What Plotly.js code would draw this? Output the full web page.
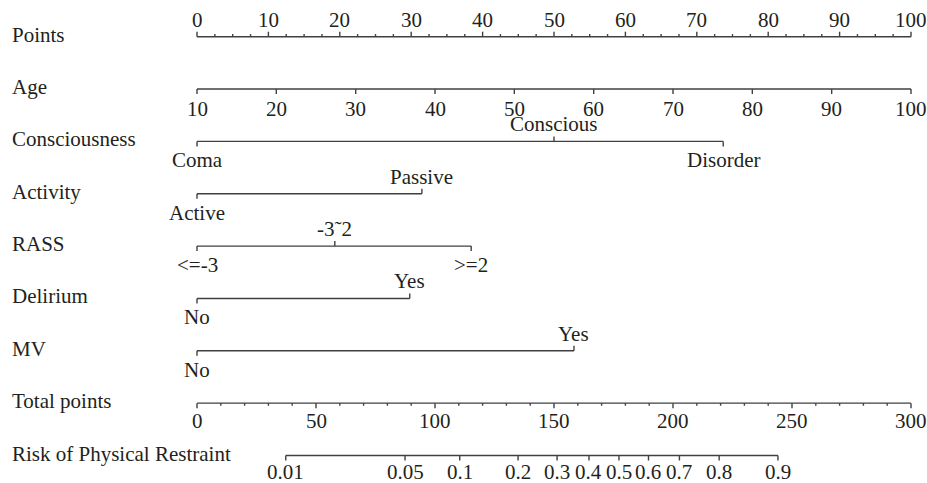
<!DOCTYPE html>
<html>
<head>
<meta charset="utf-8">
<script src="https://cdn.plot.ly/plotly-3.0.1.min.js"></script>
<style>html,body{margin:0;padding:0;background:#fff;}#chart{width:927px;height:483px;}</style>
</head>
<body>
<div id="chart"></div>
<script>
// ---------- DATA ----------
const rowNames = ["Points", "Age", "Consciousness", "Activity", "RASS", "Delirium", "MV", "Total points", "Risk of Physical Restraint"];

const pointsMajor = [0, 10, 20, 30, 40, 50, 60, 70, 80, 90, 100];
const pointsMinor = [2.5, 5, 7.5, 12.5, 15, 17.5, 22.5, 25, 27.5, 32.5, 35, 37.5, 42.5, 45, 47.5, 52.5, 55, 57.5, 62.5, 65, 67.5, 72.5, 75, 77.5, 82.5, 85, 87.5, 92.5, 95, 97.5];

const ageTicks = [10, 20, 30, 40, 50, 60, 70, 80, 90, 100];
const ageMin = 10, ageMax = 100, agePointsAtMax = 100;

const consciousnessLevels = ["Coma", "Conscious", "Disorder"];
const consciousnessPoints = [0, 50, 73.7];
const activityLevels = ["Active", "Passive"];
const activityPoints = [0, 31.5];
const rassLevels = ["<=-3", "-3\u02DC2", ">=2"];
const rassPoints = [0, 19.3, 38.4];
const deliriumLevels = ["No", "Yes"];
const deliriumPoints = [0, 29.8];
const mvLevels = ["No", "Yes"];
const mvPoints = [0, 52.8];

const totalMajor = [0, 50, 100, 150, 200, 250, 300];
const totalMinor = [10, 20, 30, 40, 60, 70, 80, 90, 110, 120, 130, 140, 160, 170, 180, 190, 210, 220, 230, 240, 260, 270, 280, 290];
const totalMax = 300;

const riskTicks = [0.01, 0.05, 0.1, 0.2, 0.3, 0.4, 0.5, 0.6, 0.7, 0.8, 0.9];
const riskTotalPoints = [37.3, 87.4, 110.4, 134.9, 151.3, 164.7, 177.3, 189.7, 202.7, 219.4, 244.1];

// ---------- DRAWING ----------
const W = 927, H = 483;
const pxPerPoint = 7.14, x0px = 197;
const rowTop = 36.7, pxPerRow = 52.35;
const majorLen = 5 / pxPerRow, minorLen = 2.6 / pxPerRow;
const FONT = {family: "Liberation Serif, Times New Roman, serif", size: 21, color: "#231f20"};
const LINE = "#404040";

const lx = [], ly = [];
function seg(xa, ya, xb, yb) { lx.push(xa, xb, null); ly.push(ya, yb, null); }
const ann = [];
function label(text, x, row, side, shiftBelow) {
  ann.push({x: x, y: row, xref: "x", yref: "y", text: text, showarrow: false,
    xanchor: "center", yanchor: "middle", yshift: side > 0 ? 17 : -(shiftBelow || 19), font: FONT});
}

// Row labels
rowNames.forEach((n, i) => ann.push({x: 10 / W, xref: "paper", y: i, yref: "y", text: n, showarrow: false,
  xanchor: "left", yanchor: "middle", yshift: 2, font: FONT}));

// Points axis (row 0): ticks up, labels above
seg(pointsMajor[0], 0, pointsMajor[pointsMajor.length - 1], 0);
pointsMajor.forEach(v => { seg(v, 0, v, -majorLen); label(String(v), v, 0, 1); });
pointsMinor.forEach(v => seg(v, 0, v, -minorLen));

// Age axis (row 1): ticks down, labels below
const agePts = a => (a - ageMin) / (ageMax - ageMin) * agePointsAtMax;
seg(agePts(ageTicks[0]), 1, agePts(ageTicks[ageTicks.length - 1]), 1);
ageTicks.forEach(a => { seg(agePts(a), 1, agePts(a), 1 + majorLen); label(String(a), agePts(a), 1, -1, 20); });

// Categorical rows
function catRow(row, levels, pts) {
  seg(Math.min(...pts), row, Math.max(...pts), row);
  levels.forEach((lv, i) => {
    const side = i % 2 === 1 ? 1 : -1;
    seg(pts[i], row, pts[i], row - side * majorLen);
    label(lv, pts[i], row, side);
  });
}
catRow(2, consciousnessLevels, consciousnessPoints);
catRow(3, activityLevels, activityPoints);
catRow(4, rassLevels, rassPoints);
catRow(5, deliriumLevels, deliriumPoints);
catRow(6, mvLevels, mvPoints);

// Total points (row 7): ticks down, labels below
const tpx = t => t / totalMax * 100;
seg(tpx(totalMajor[0]), 7, tpx(totalMajor[totalMajor.length - 1]), 7);
totalMajor.forEach(t => { seg(tpx(t), 7, tpx(t), 7 + majorLen); label(String(t), tpx(t), 7, -1, 18); });
totalMinor.forEach(t => seg(tpx(t), 7, tpx(t), 7 + minorLen));

// Risk (row 8)
seg(tpx(riskTotalPoints[0]), 8, tpx(riskTotalPoints[riskTotalPoints.length - 1]), 8);
riskTicks.forEach((r, i) => { const x = tpx(riskTotalPoints[i]); seg(x, 8, x, 8 + majorLen); label(String(r), x, 8, -1, 16); });

const trace = {x: lx, y: ly, mode: "lines", type: "scatter", line: {color: LINE, width: 1.4}, hoverinfo: "skip", showlegend: false};

const layout = {
  width: W, height: H, margin: {l: 0, r: 0, t: 0, b: 0},
  paper_bgcolor: "#fff", plot_bgcolor: "#fff",
  xaxis: {range: [-x0px / pxPerPoint, (W - x0px) / pxPerPoint], visible: false, fixedrange: true},
  yaxis: {range: [(H - rowTop) / pxPerRow, -rowTop / pxPerRow], visible: false, fixedrange: true},
  annotations: ann, showlegend: false
};
Plotly.newPlot("chart", [trace], layout, {staticPlot: true, displayModeBar: false});
</script>
</body>
</html>
